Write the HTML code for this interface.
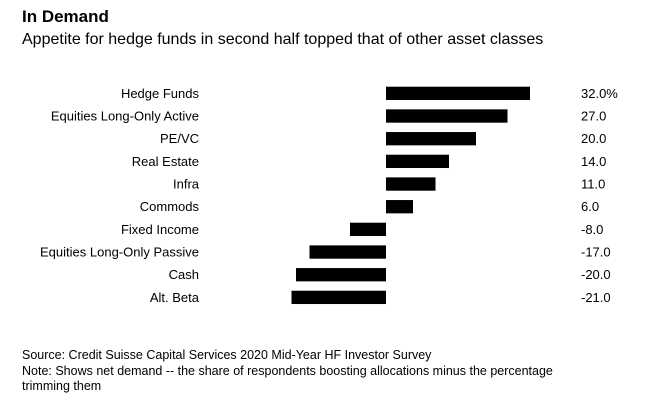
<!DOCTYPE html>
<html><head><meta charset="utf-8"><style>
body{margin:0;background:#fff;font-family:"Liberation Sans",Arial,sans-serif;}
#wrap{position:relative;width:669px;height:413px;overflow:hidden;}
.t{position:absolute;white-space:nowrap;color:#000;}
</style></head><body>
<div id="wrap">
<div class="t" style="left:22px;top:7px;font-size:17px;font-weight:bold;">In Demand</div>
<div class="t" style="left:22px;top:31px;font-size:16px;">Appetite for hedge funds in second half topped that of other asset classes</div>
<svg id="plot" width="669" height="413" style="position:absolute;left:0;top:0"></svg>
<div class="t" style="left:22px;top:348px;font-size:12.5px;line-height:15.5px;">Source: Credit Suisse Capital Services 2020 Mid-Year HF Investor Survey<br>Note: Shows net demand -- the share of respondents boosting allocations minus the percentage<br>trimming them</div>
</div>
<script>
const categories=["Hedge Funds","Equities Long-Only Active","PE/VC","Real Estate","Infra","Commods","Fixed Income","Equities Long-Only Passive","Cash","Alt. Beta"];
const values=[32,27,20,14,11,6,-8,-17,-20,-21];
const valueLabels=["32.0%","27.0","20.0","14.0","11.0","6.0","-8.0","-17.0","-20.0","-21.0"];
const NS="http://www.w3.org/2000/svg";
const svg=document.getElementById('plot');
const x=v=>386+v*4.5;
const y=i=>86.7+i*22.67;
const bh=13.3;
categories.forEach((c,i)=>{
  const v=values[i];
  const r=document.createElementNS(NS,'rect');
  r.setAttribute('x',Math.min(x(0),x(v)));
  r.setAttribute('y',y(i));
  r.setAttribute('width',Math.abs(x(v)-x(0)));
  r.setAttribute('height',bh);
  r.setAttribute('fill','#000');
  
  
  svg.appendChild(r);
  const t=document.createElementNS(NS,'text');
  t.setAttribute('x',199);
  t.setAttribute('y',y(i)+bh/2+4.5);
  t.setAttribute('text-anchor','end');
  t.setAttribute('font-size','13');
  t.setAttribute('font-family','Liberation Sans, Arial, sans-serif');
  t.textContent=c;
  
  
  svg.appendChild(t);
  const l=document.createElementNS(NS,'text');
  l.setAttribute('x',581);
  l.setAttribute('y',y(i)+bh/2+4.5);
  l.setAttribute('font-size','13');
  l.setAttribute('font-family','Liberation Sans, Arial, sans-serif');
  l.textContent=valueLabels[i];
  
  
  svg.appendChild(l);
});
</script>
</body></html>
